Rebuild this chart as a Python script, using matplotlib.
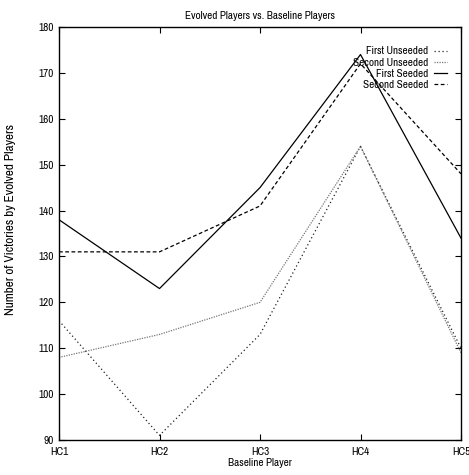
import matplotlib.pyplot as plt

# gnuplot-ish look: thin lines, inward ticks, narrow Helvetica-like font
plt.rcParams['font.family'] = ['Archivo Narrow', 'Liberation Sans', 'DejaVu Sans']
plt.rcParams['font.size'] = 8

players = ['HC1', 'HC2', 'HC3', 'HC4', 'HC5']
first_unseeded = [116, 91, 113, 154, 110]
second_unseeded = [108, 113, 120, 154, 109]
first_seeded = [138, 123, 145, 174, 134]
second_seeded = [131, 131, 141, 172, 148]
yticks = [90, 100, 110, 120, 130, 140, 150, 160, 170, 180]

fig = plt.figure(figsize=(4.69, 4.75), dpi=100)
ax = fig.add_axes([59/469, 35/475, 402/469, 413/475])

x = range(len(players))
ax.plot(x, first_unseeded, color='#222222', lw=0.9, linestyle=(0, (1, 2.2)), label='First Unseeded')
ax.plot(x, second_unseeded, color='#777777', lw=0.9, linestyle=(0, (1, 1)), label='Second Unseeded')
ax.plot(x, first_seeded, color='black', lw=0.9, linestyle='-', label='First Seeded')
ax.plot(x, second_seeded, color='black', lw=0.9, linestyle=(0, (3, 2)), label='Second Seeded')

ax.set_xlim(0, len(players) - 1)
ax.set_ylim(90, 180)
ax.set_xticks(list(x))
ax.set_xticklabels(players)
ax.set_yticks(yticks)
ax.tick_params(direction='in', length=4, width=0.8, top=True, right=True, labelsize=8)
ax.tick_params(axis='x', pad=5)
ax.tick_params(axis='y', pad=4)
for s in ax.spines.values():
    s.set_linewidth(1.0)

ax.set_title('Evolved Players vs. Baseline Players', fontsize=8, pad=6)
ax.set_xlabel('Baseline Player', fontsize=8, labelpad=1)
ax.set_ylabel('Number of Victories by Evolved Players', fontsize=9.5)
ax.yaxis.set_label_coords(-43/402, 0.533)

leg = ax.legend(loc='upper right', frameon=False, markerfirst=False, fontsize=8,
                handlelength=1.15, handletextpad=0.5, labelspacing=0.1,
                bbox_to_anchor=(1 - 10/402, 1 - 15/413), borderaxespad=0)

fig.savefig('out.png', dpi=100)
